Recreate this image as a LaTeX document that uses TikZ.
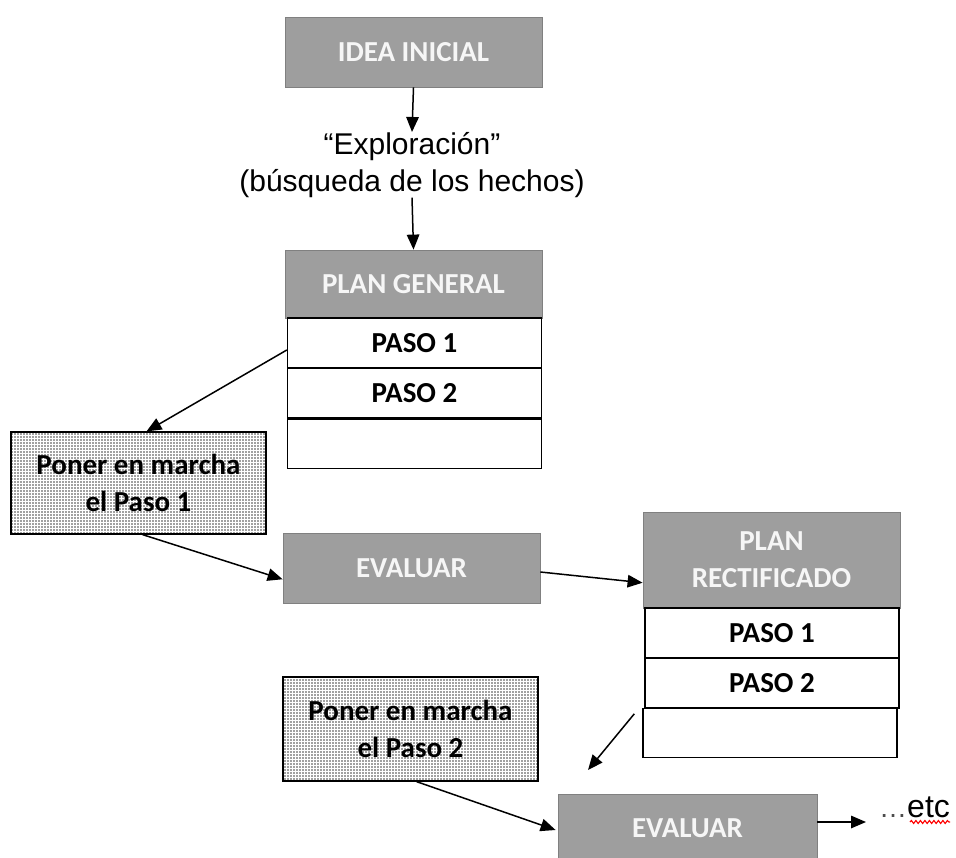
\documentclass[tikz,border=0pt]{standalone}
\usepackage{fontspec}
\setmainfont{Liberation Sans}
\newfontfamily\calibri{Carlito}
\usetikzlibrary{arrows.meta,patterns.meta,decorations.pathmorphing}
\definecolor{boxgray}{RGB}{158,158,158}
\definecolor{boxedge}{RGB}{128,128,128}
\definecolor{boxtext}{RGB}{246,246,246}
\begin{document}
\begin{tikzpicture}[x=1pt,y=-1pt,
	boxfont/.style={font=\calibri\bfseries\fontsize{29}{37}\selectfont, align=center, inner sep=0pt},
	headbox/.style={boxfont, draw=boxedge, line width=0.8pt, fill=boxgray, text=boxtext, minimum width=257pt},
	rowbox/.style={boxfont, draw=black, line width=1.4pt, fill=white, minimum width=254pt, minimum height=50pt},
	dotbox/.style={boxfont, draw=black, line width=1.2pt, pattern={Dots[radius=0.8pt,distance=3pt]}, pattern color=black!75, minimum width=255pt},
	arr/.style={line width=1.5pt, -{Triangle[length=15pt,width=12.5pt]}}]
	% Frame
	\useasboundingbox (0,0) rectangle (956,857);
	\clip (0,0) rectangle (956,857);
	% Start
	\node [headbox, minimum height=70pt] (idea) at (413.5,52) {IDEA INICIAL};
	\node [font=\fontsize{30}{37}\selectfont, align=center, inner sep=0pt, anchor=north] (explo) at (412,132) {“Exploración”\\(búsqueda de los hechos)};
	% Plan general
	\node [headbox, minimum height=68pt] (pg) at (413.5,284) {PLAN GENERAL};
		\node [rowbox] (pg1) at (414.5,343) {PASO 1};
		\node [rowbox] (pg2) at (414.5,393) {PASO 2};
		\node [rowbox, minimum height=49pt] (pge) at (414.5,444) {};
	% First step
	\node [dotbox, minimum height=102pt] (pon1) at (138.5,483) {Poner en marcha\\el Paso 1};
	\node [headbox, minimum height=70pt] (ev1) at (411.5,568) {EVALUAR};
	% Plan rectificado
	\node [headbox, minimum height=96pt] (rh) at (771.5,560) {PLAN\\RECTIFICADO};
		\node [rowbox] (r1) at (772,633) {PASO 1};
		\node [rowbox] (r2) at (772,683) {PASO 2};
		\node [rowbox, minimum height=49pt] (re) at (770,733) {};
	% Second step
	\node [dotbox, minimum height=104pt] (pon2) at (410.5,729) {Poner en marcha\\el Paso 2};
	\node [headbox, minimum width=259pt, minimum height=68pt] (ev2) at (687.5,828) {EVALUAR};
	\node [font=\fontsize{32}{36}\selectfont, inner sep=0pt, anchor=base west] (etc) at (879,817) {\textcolor{black!70}{\fontsize{28}{36}\selectfont …}etc};
		\draw [red, line width=1.1pt, decorate, decoration={snake,amplitude=1.5pt,segment length=4.5pt}] ([xshift=31pt,yshift=-5pt]etc.base west) -- ([yshift=-5pt]etc.base east);
	\coordinate (gap) at (588,770);
	% Arrows
	\draw [arr] (idea.south) -- (explo.north);
	\draw [arr] (explo.south) -- (pg.north);
	\draw [arr] ([yshift=-7pt]pg1.west) -- ([xshift=8pt]pon1.north);
	\draw [arr] ([xshift=4pt]pon1.south) -- (ev1.185);
	\draw [arr] ([yshift=-4pt]ev1.east) -- (rh.190);
	\draw [arr] ([xshift=-8pt,yshift=-6pt]re.north west) -- (gap);
	\draw [arr] ([xshift=6pt]pon2.south) -- ([xshift=-2pt,yshift=-2pt]ev2.west);
	\draw [arr, shorten >=13pt] ([yshift=6pt]ev2.east) -- ([yshift=6pt]ev2.east -| etc.west);
\end{tikzpicture}
\end{document}
